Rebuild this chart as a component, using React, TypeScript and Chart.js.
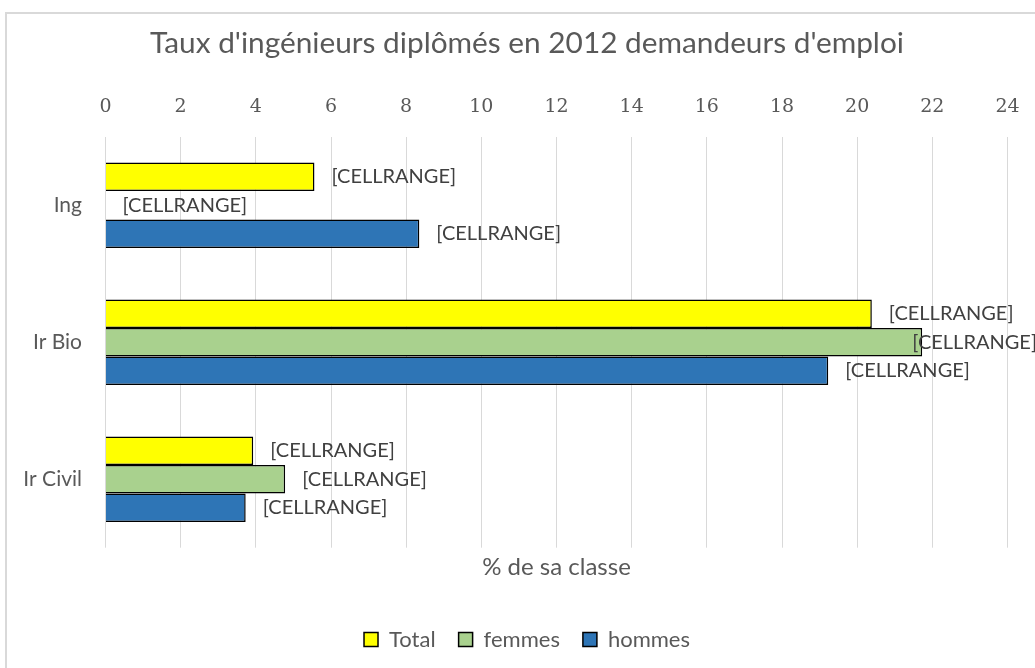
import React, { useEffect, useRef } from "react";
import { Chart, registerables } from "chart.js";

Chart.register(...registerables);

// ---- data ----
const categories = ["Ing", "Ir Bio", "Ir Civil"];
const seriesNames = ["Total", "femmes", "hommes"];
const totalValues = [5.56, 20.39, 3.93];
const femmesValues = [0, 21.73, 4.78];
const hommesValues = [8.35, 19.23, 3.73];
const xMin = 0;
const xMax = 24;
const xStep = 2;
const cellLabel = "[CELLRANGE]";
const titleText = "Taux d'ingénieurs diplômés en 2012 demandeurs d'emploi";
const xTitleText = "% de sa classe";

// ---- style ----
const VIEW_W = 1035;
const W = 1050; // chart frame continues past the visible window
const H = 668;
const GRAY = "#595959";
const TITLE_SIZE = 29.8;
const TITLE_PAD_TOP = 43.8 - TITLE_SIZE * 0.6;
const TITLE_BOTTOM = TITLE_PAD_TOP + TITLE_SIZE * 1.2;
const AREA_TOP = 136.7;
const PAD_LEFT = 10;
const PAD_RIGHT = 6;
const AREA_LEFT = 105.5;
const AREA_RIGHT = 1007.5;
const LABEL_LIMIT = 1037;

const framePlugin = {
  id: "frame",
  beforeDraw(chart: any) {
    const ctx = chart.ctx;
    ctx.save();
    ctx.fillStyle = "#ffffff";
    ctx.fillRect(0, 0, chart.width, chart.height);
    ctx.strokeStyle = "#d9d9d9";
    ctx.lineWidth = 2;
    ctx.strokeRect(6, 13, 2000, 2000);
    ctx.restore();
  },
};

const cellLabelPlugin = {
  id: "cellLabels",
  afterDatasetsDraw(chart: any) {
    const ctx = chart.ctx;
    ctx.save();
    ctx.font = "20px Lato";
    ctx.fillStyle = "#404040";
    ctx.textBaseline = "middle";
    ctx.textAlign = "left";
    const w = ctx.measureText(cellLabel).width;
    chart.data.datasets.forEach((_ds: any, i: number) => {
      const meta = chart.getDatasetMeta(i);
      meta.data.forEach((bar: any) => {
        let x = bar.x + 17;
        if (x + w > LABEL_LIMIT) x = LABEL_LIMIT - w;
        ctx.fillText(cellLabel, x, bar.y);
      });
    });
    ctx.restore();
  },
};

export default function App() {
  const ref = useRef<HTMLCanvasElement | null>(null);

  useEffect(() => {
    if (!ref.current) return;
    const colors = ["#FFFF00", "#A9D18E", "#2E75B6"];
    const values = [totalValues, femmesValues, hommesValues];
    const chart = new Chart(ref.current, {
      type: "bar",
      data: {
        labels: categories,
        datasets: seriesNames.map((name, i) => ({
          label: name,
          data: values[i],
          backgroundColor: colors[i],
          borderColor: "#000000",
          borderWidth: 1.5,
          barPercentage: 1,
          categoryPercentage: 0.625,
          xAxisID: "x",
          yAxisID: "y",
        })),
      },
      options: {
        indexAxis: "y",
        animation: false,
        responsive: false,
        layout: { padding: { top: 0, left: PAD_LEFT, right: PAD_RIGHT, bottom: 7.5 } },
        scales: {
          y: {
            type: "category",
            position: "left",
            ticks: {
              padding: 23.5,
              color: GRAY,
              font: { family: "Lato", size: 21 },
            },
            grid: { display: false, drawTicks: false },
            border: { display: false },
            afterFit(scale: any) {
              scale.width = AREA_LEFT - PAD_LEFT;
            },
          },
          yRight: {
            type: "linear",
            axis: "y",
            position: "right",
            ticks: { display: false },
            grid: { display: false, drawTicks: false },
            border: { display: false },
            afterFit(scale: any) {
              scale.width = W - PAD_RIGHT - AREA_RIGHT;
            },
          },
          x: {
            type: "linear",
            position: "top",
            min: xMin,
            max: xMax,
            ticks: {
              stepSize: xStep,
              padding: 18.6,
              color: GRAY,
              font: { family: "DejaVu Serif", size: 19 },
            },
            grid: { color: "#d9d9d9", lineWidth: 1, drawTicks: false },
            border: { display: false },
            afterFit(scale: any) {
              scale.height = AREA_TOP - TITLE_BOTTOM;
              scale.paddingLeft = 0;
              scale.paddingRight = 0;
            },
          },
          x2: {
            type: "linear",
            axis: "x",
            position: "bottom",
            min: xMin,
            max: xMax,
            ticks: { display: false },
            grid: { display: false, drawTicks: false },
            border: { display: false },
            title: {
              display: true,
              text: xTitleText,
              color: GRAY,
              font: { family: "Lato", size: 24 },
              padding: { top: 0, bottom: 24 },
            },
            afterFit(scale: any) {
              scale.height = 57.8;
              scale.paddingLeft = 0;
              scale.paddingRight = 0;
            },
          },
        },
        plugins: {
          title: {
            display: true,
            text: titleText,
            color: GRAY,
            font: { family: "Lato", size: TITLE_SIZE, weight: "normal" },
            padding: { top: TITLE_PAD_TOP, bottom: 0 },
          },
          legend: {
            display: true,
            position: "bottom",
            labels: {
              boxWidth: 14,
              boxHeight: 14,
              padding: 23,
              color: GRAY,
              font: { family: "Lato", size: 22 },
            },
          },
          tooltip: { enabled: false },
        },
      },
      plugins: [framePlugin, cellLabelPlugin],
    } as any);
    return () => chart.destroy();
  }, []);

  return (
    <div style={{ position: "absolute", left: 0, top: 0, width: VIEW_W, height: H, overflow: "hidden", background: "#fff" }}>
      <canvas ref={ref} width={W} height={H} style={{ display: "block" }} />
    </div>
  );
}
